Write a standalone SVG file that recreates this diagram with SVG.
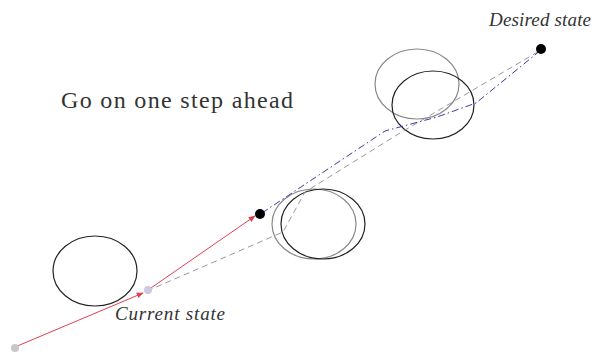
<svg xmlns="http://www.w3.org/2000/svg" width="603" height="354" viewBox="0 0 603 354">
<style>
.ell{fill:none;stroke-width:1.2}
.blk{stroke:#222}
.gry{stroke:#888}
.red{fill:none;stroke:#e04050;stroke-width:1}
.gd{fill:none;stroke:#999;stroke-width:1;stroke-dasharray:6 4}
.bd{fill:none;stroke:#3a3aa8;stroke-width:1;stroke-dasharray:7 3 1.5 3}
.it{font-family:"Liberation Serif",serif;font-style:italic;font-size:19px;fill:#333}
.rm{font-family:"Liberation Serif",serif;font-size:24px;fill:#333}
</style>
<defs>
<marker id="ar" viewBox="0 0 10 10" refX="9" refY="5" markerWidth="7" markerHeight="7" orient="auto" markerUnits="userSpaceOnUse">
<path d="M0,1 L10,5 L0,9 z" fill="#e04050"/>
</marker>
</defs>
<rect width="603" height="354" fill="#fff"/>
<g id="obstacle1"><ellipse class="ell blk" cx="95" cy="271" rx="42" ry="35"/></g>
<g id="obstacle2"><ellipse class="ell gry" cx="314" cy="224" rx="42" ry="35"/><ellipse class="ell blk" cx="323" cy="224" rx="42" ry="35"/></g>
<g id="obstacle3"><ellipse class="ell gry" cx="417" cy="84" rx="42" ry="35"/><ellipse class="ell blk" cx="433" cy="105" rx="41" ry="34"/></g>
<g id="connectors">
<polyline class="gd" points="147,291 283,232 305,192 400,133 541,50"/>
<polyline class="bd" points="262,213 385,131 437,117 476,103 541,50"/>
<line class="red" x1="15" y1="347" x2="143" y2="293" marker-end="url(#ar)"/>
<line class="red" x1="148" y1="290" x2="255" y2="216" marker-end="url(#ar)"/>
</g>
<g id="start"><circle cx="15" cy="348" r="4" fill="#c8c8c8"/></g>
<g id="current"><circle cx="148" cy="290" r="4" fill="#d0c8dc"/><text class="it" x="115" y="320" textLength="110">Current state</text></g>
<g id="next"><circle cx="260" cy="214" r="5" fill="#000"/></g>
<g id="desired"><circle cx="541" cy="49" r="5" fill="#000"/><text class="it" x="489" y="26" textLength="102">Desired state</text></g>
<g id="title"><text class="rm" x="61" y="108" textLength="232">Go on one step ahead</text></g>
</svg>
